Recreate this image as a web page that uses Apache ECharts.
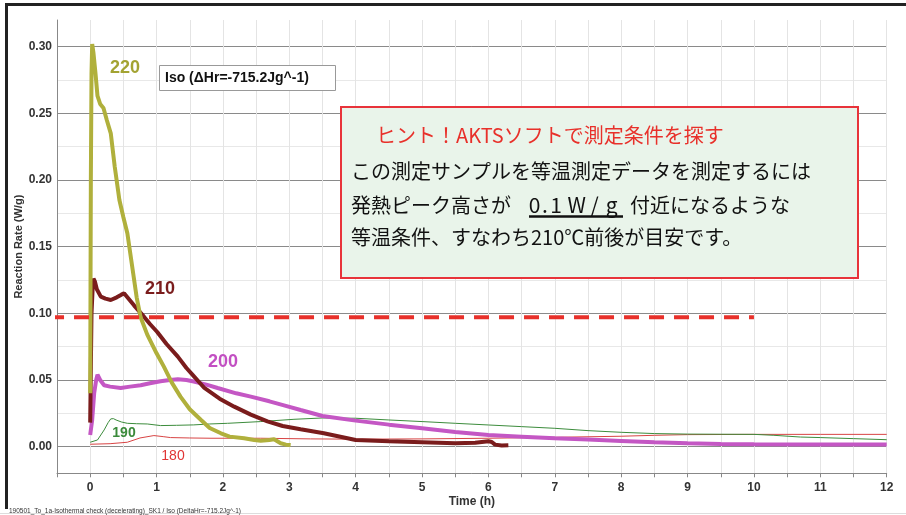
<!DOCTYPE html>
<html><head><meta charset="utf-8">
<script src="https://cdn.jsdelivr.net/npm/echarts@6/dist/echarts.min.js"></script>
<style>html,body{margin:0;padding:0;background:#fff}#c{width:906px;height:515px}</style>
</head><body><div id="c"></div>
<script>
// ---- data: [time (h), reaction rate (W/g)] ----
const s220 = [[0,0.04],[0.005,0.12],[0.01,0.2],[0.02,0.28],[0.03,0.302],[0.05,0.295],[0.08,0.28],[0.11,0.263],[0.15,0.257],[0.2,0.254],[0.25,0.245],[0.31,0.235],[0.37,0.21],[0.44,0.185],[0.5,0.172],[0.56,0.16],[0.63,0.136],[0.7,0.112],[0.76,0.097],[0.86,0.084],[1.0,0.07],[1.11,0.06],[1.23,0.048],[1.36,0.0375],[1.5,0.028],[1.67,0.02],[1.8,0.014],[1.97,0.01],[2.1,0.0075],[2.32,0.0063],[2.47,0.005],[2.57,0.0045],[2.7,0.005],[2.77,0.0055],[2.82,0.004],[2.87,0.0025],[2.95,0.0015],[3.02,0.0012]];
const s210 = [[0,0.018],[0.01,0.06],[0.02,0.1],[0.04,0.122],[0.05,0.126],[0.07,0.124],[0.1,0.118],[0.16,0.1125],[0.23,0.111],[0.31,0.11],[0.4,0.112],[0.47,0.114],[0.51,0.115],[0.56,0.112],[0.66,0.106],[0.73,0.102],[0.81,0.0975],[0.9,0.092],[1.01,0.086],[1.15,0.077],[1.32,0.0675],[1.45,0.059],[1.54,0.054],[1.72,0.044],[1.95,0.036],[2.17,0.03],[2.42,0.024],[2.67,0.019],[2.9,0.0155],[3.17,0.013],[3.52,0.01],[4,0.005],[4.5,0.004],[5,0.0033],[5.5,0.0025],[5.8,0.003],[6.0,0.004],[6.05,0.0035],[6.1,0.0015],[6.2,0.0008],[6.3,0.001]];
const s200 = [[0,0.0088],[0.03,0.02],[0.06,0.04],[0.09,0.05],[0.11,0.054],[0.15,0.05],[0.21,0.046],[0.3,0.045],[0.46,0.044],[0.6,0.045],[0.76,0.046],[0.9,0.0475],[1.06,0.049],[1.2,0.05],[1.32,0.0505],[1.45,0.05],[1.56,0.0488],[1.75,0.0465],[1.92,0.044],[2.2,0.04],[2.42,0.0375],[2.7,0.034],[2.92,0.031],[3.17,0.0275],[3.5,0.023],[4,0.0195],[4.5,0.0165],[5,0.0138],[5.5,0.011],[6,0.00875],[6.5,0.0075],[7,0.00625],[7.5,0.0053],[8,0.0043],[8.5,0.0033],[9,0.0025],[9.5,0.002],[10,0.0017],[11,0.0016],[12,0.0016]];
const s190 = [[0,0.0033],[0.11,0.005],[0.21,0.0125],[0.27,0.018],[0.31,0.0208],[0.35,0.021],[0.39,0.02],[0.47,0.0185],[0.56,0.0175],[0.7,0.0172],[0.86,0.017],[1.06,0.0158],[1.3,0.016],[1.56,0.0163],[1.8,0.017],[2.07,0.0175],[2.57,0.0188],[3.07,0.0205],[3.5,0.0215],[4,0.0213],[4.5,0.02],[5,0.0188],[5.5,0.0175],[6,0.01625],[6.5,0.015],[7,0.01375],[7.5,0.012],[8,0.01075],[8.5,0.0098],[9,0.0094],[9.5,0.0093],[10,0.0092],[10.3,0.0085],[10.7,0.0072],[11,0.0068],[11.5,0.006],[12,0.0052]];
const s180 = [[0,0.0018],[0.3,0.0022],[0.56,0.0033],[0.75,0.0065],[0.96,0.0083],[1.1,0.0075],[1.21,0.0068],[1.5,0.0065],[1.82,0.0063],[2.57,0.0063],[3.32,0.0058],[4,0.0056],[5,0.0058],[6,0.0063],[7,0.007],[8,0.0078],[8.5,0.0085],[9,0.009],[10,0.0092],[11,0.0092],[12,0.0092]];
const guideLine = [[-0.62,0.097],[10,0.097]];
const xLabelValues = [0,1,2,3,4,5,6,7,8,9,10,11,12];
const yLabelValues = [0,0.05,0.1,0.15,0.2,0.25,0.3];
const yGridValues = [0,0.025,0.05,0.075,0.1,0.125,0.15,0.175,0.2,0.225,0.25,0.275,0.3];
const seriesNames = ['180','190','200','210','220'];

const chart = echarts.init(document.getElementById('c'), null, {renderer:'canvas'});
const lab = {fontFamily:'Liberation Sans', fontWeight:'bold', fontSize:12, color:'#333'};
function line(name, data, color, width, z) {
  return {name, type:'line', data, showSymbol:false, symbol:'none', smooth:false, z,
    lineStyle:{color, width}, itemStyle:{color}, animation:false};
}
const cjk = '"Noto Sans CJK JP", sans-serif';
const wg = [['0',534.5],['.',545],['1',556],['W',576.6],['/',594.5],['g',611.7]];
const graphics = [
  {type:'line', shape:{x1:5,y1:4.5,x2:906,y2:4.5}, style:{stroke:'#222',lineWidth:3}, z:100},
  {type:'line', shape:{x1:6.5,y1:3,x2:6.5,y2:509}, style:{stroke:'#222',lineWidth:3}, z:100},
  {type:'line', shape:{x1:0,y1:513.5,x2:906,y2:513.5}, style:{stroke:'#ddd',lineWidth:1}, z:100},
  {type:'text', style:{x:9,y:511,text:'190501_To_1a-Isothermal check (decelerating)_SK1 / Iso (DeltaHr=-715.2Jg^-1)', font:'6.5px "Liberation Sans Narrow", "Liberation Sans"', fill:'#333', verticalAlign:'middle'}, z:100},
  {type:'rect', shape:{x:159.5,y:65.5,width:176,height:25}, style:{fill:'#fff',stroke:'#999',lineWidth:1}, z:100},
  {type:'text', style:{x:165,y:78,text:'Iso (ΔHr=-715.2Jg^-1)', font:'bold 14px "Liberation Sans"', fill:'#111', verticalAlign:'middle'}, z:101},
  {type:'rect', shape:{x:341,y:107,width:517,height:171}, style:{fill:'#e9f4ea',stroke:'#e8333a',lineWidth:2}, z:100},
  {type:'text', style:{x:376,y:135,text:'ヒント！AKTSソフトで測定条件を探す', font:'20px '+cjk, fill:'#e8302a', verticalAlign:'middle'}, z:101},
  {type:'text', style:{x:351,y:171.5,text:'この測定サンプルを等温測定データを測定するには', font:'20px '+cjk, fill:'#111', verticalAlign:'middle'}, z:101},
  {type:'text', style:{x:351,y:205.5,text:'発熱ピーク高さが', font:'20px '+cjk, fill:'#111', verticalAlign:'middle'}, z:101},
  {type:'text', style:{x:630,y:205.5,text:'付近になるような', font:'20px '+cjk, fill:'#111', verticalAlign:'middle'}, z:101},
  {type:'line', shape:{x1:529,y1:216.5,x2:623,y2:216.5}, style:{stroke:'#111',lineWidth:2.5}, z:101},
  {type:'text', style:{x:351,y:237,text:'等温条件、すなわち210℃前後が目安です。', font:'20px '+cjk, fill:'#111', verticalAlign:'middle'}, z:101},
  {type:'text', style:{x:125,y:68,text:'220', font:'bold 18px "Liberation Sans"', fill:'#a3a332', align:'center', verticalAlign:'middle'}, z:101},
  {type:'text', style:{x:160,y:289,text:'210', font:'bold 18px "Liberation Sans"', fill:'#7a1c1c', align:'center', verticalAlign:'middle'}, z:101},
  {type:'text', style:{x:223,y:362,text:'200', font:'bold 18px "Liberation Sans"', fill:'#c24fc2', align:'center', verticalAlign:'middle'}, z:101},
  {type:'text', style:{x:124,y:433.5,text:'190', font:'bold 14px "Liberation Sans"', fill:'#3a8a3a', align:'center', verticalAlign:'middle'}, z:101},
  {type:'text', style:{x:173,y:456.5,text:'180', font:'14px "Liberation Sans"', fill:'#e03434', align:'center', verticalAlign:'middle'}, z:101}
];
wg.forEach(([ch,x]) => graphics.push({type:'text', style:{x, y:205.5, text:ch, font:'21px '+cjk, fill:'#111', align:'center', verticalAlign:'middle'}, z:101}));

chart.setOption({
  animation:false,
  backgroundColor:'#fff',
  grid:{left:57, right:19.3, top:20, bottom:41.7, containLabel:false, outerBoundsMode:'none'},
  xAxis:{type:'value', min:-0.5, max:12, interval:0.5,
    axisLine:{show:true, onZero:false, lineStyle:{color:'#888'}},
    axisTick:{show:true, inside:false, length:4, lineStyle:{color:'#888'}},
    axisLabel:Object.assign({customValues:xLabelValues, margin:8, formatter:v=>String(v)}, lab),
    splitLine:{show:true, lineStyle:{color:'#e4e4e4', width:1}},
    name:'Time (h)', nameLocation:'middle', nameGap:22, nameMoveOverlap:false,
    nameTextStyle:{fontFamily:'Liberation Sans', fontWeight:'bold', fontSize:12, color:'#333'}},
  yAxis:{type:'value', min:-0.02, max:0.32,
    axisLine:{show:true, onZero:false, lineStyle:{color:'#888'}},
    axisTick:{show:false, customValues:yGridValues},
    axisLabel:Object.assign({customValues:yLabelValues, margin:5, formatter:v=>v.toFixed(2)}, lab),
    splitLine:{show:true, lineStyle:{color:['#8a8a8a','#e8e8e8'], width:1}},
    name:'Reaction Rate (W/g)', nameLocation:'middle', nameGap:33, nameMoveOverlap:false,
    nameTextStyle:{fontFamily:'Liberation Sans', fontWeight:'bold', fontSize:11, color:'#333'}},
  series:[
    line(seriesNames[0], s180, '#d84444', 1, 2),
    line(seriesNames[1], s190, '#3c8c3c', 1, 2),
    line(seriesNames[2], s200, '#c457c4', 4, 3),
    line(seriesNames[3], s210, '#7a1c1c', 4, 4),
    line(seriesNames[4], s220, '#b0b03c', 4, 5),
    {type:'line', data:guideLine, showSymbol:false, symbol:'none', clip:false, z:10,
      lineStyle:{color:'#e8302a', width:4, type:[15,10]}, animation:false}
  ],
  graphic:graphics
});
</script></body></html>
